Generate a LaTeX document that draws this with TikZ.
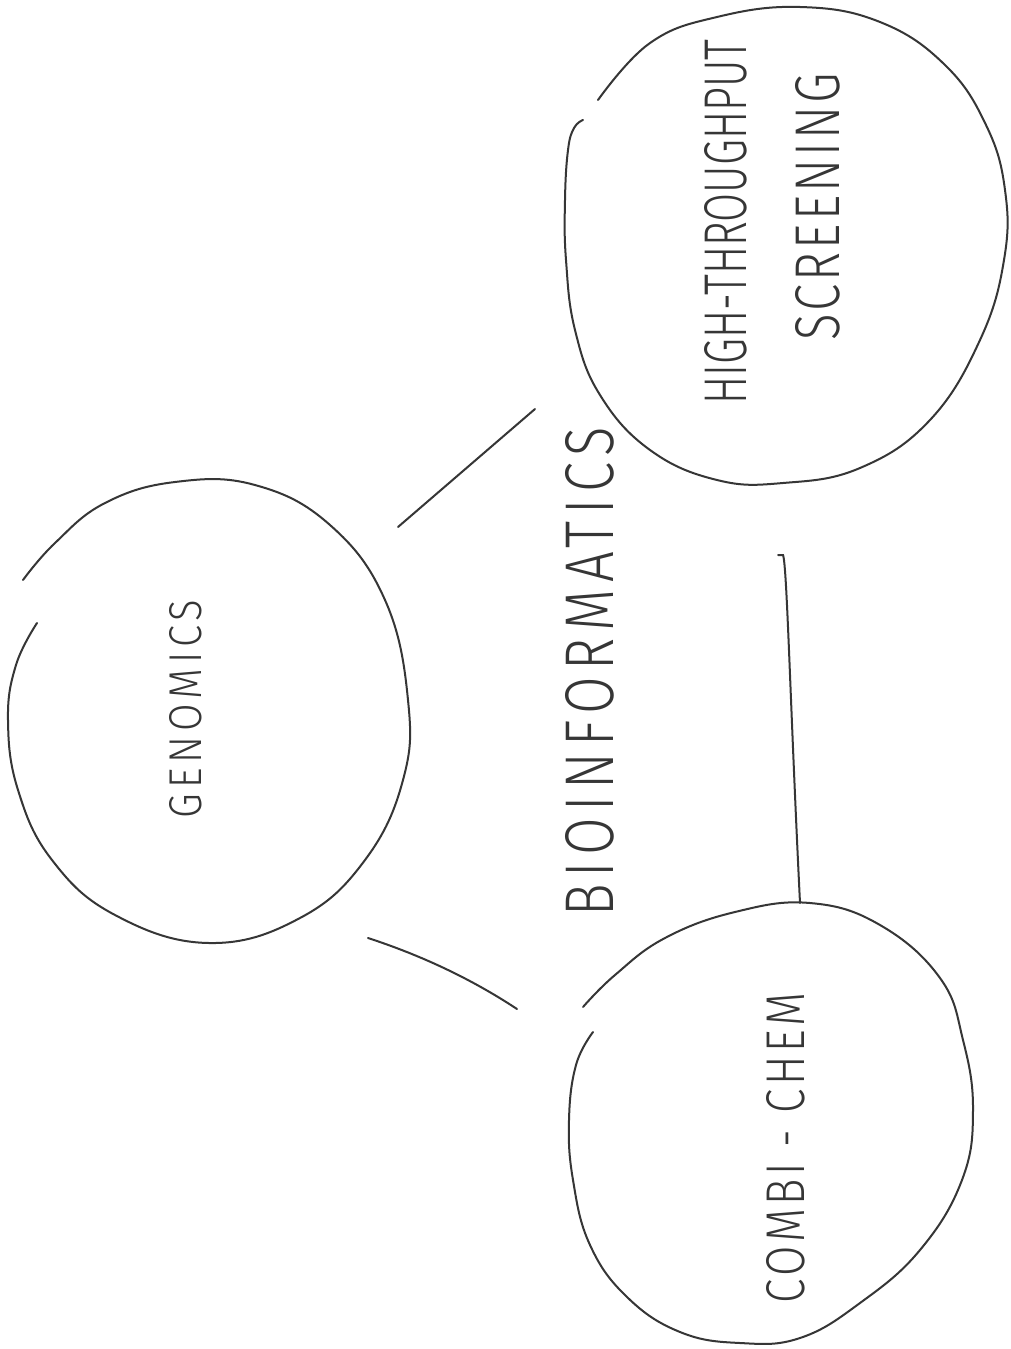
\documentclass[tikz,border=0pt]{standalone}
\usepackage{fontspec}
\setmainfont{Fira Sans}[UprightFont={* Light}]
\usepackage{graphicx}
\definecolor{ink}{HTML}{363636}
\begin{document}
\begin{tikzpicture}[x=1pt,y=-1pt,
  outline/.style={draw=ink, line width=2pt, line cap=round, line join=round},
  link/.style={draw=ink, line width=2pt, line cap=round},
  lbl/.style={rotate=90, inner sep=0pt, text=ink}]
\useasboundingbox[fill=white] (0,0) rectangle (1010,1349);

% Genomics circle (open near top-left)
\draw[outline] plot[smooth, tension=0.7] coordinates {
 (37,623) (16,665) (8,720) (18,790) (52,860) (115,915) (209,943) (300,918)
 (365,860) (403,780) (408,700) (385,600) (330,525) (255,485) (175,482)
 (105,503) (55,543) (23,580)};

% High-throughput screening circle
\draw[outline] plot[smooth, tension=0.7] coordinates {
 (583,120) (574,128) (568,150) (565,200) (566,260) (575,330) (600,395)
 (650,450) (717,480) (783,483) (860,468) (930,420) (980,340) (1004,260)
 (1005,190) (986,125) (945,65) (880,22) (800,7) (717,17) (650,43) (598,100)};

% Combi-chem circle
\draw[outline] plot[smooth, tension=0.7] coordinates {
 (593,1032) (576,1065) (569,1120) (573,1180) (590,1245) (627,1297)
 (680,1332) (740,1343) (800,1338) (860,1303) (920,1250) (962,1180)
 (973,1110) (963,1040) (940,978) (880,925) (810,903) (735,912)
 (665,938) (615,975) (583,1007)};

% labels
\node[lbl] (gen)  at (186,709)  {\resizebox{218pt}{32pt}{\addfontfeature{LetterSpace=12}GENOMICS}};
\node[lbl] (hts1) at (726,222)  {\resizebox{365pt}{42pt}{HIGH-THROUGHPUT}};
\node[lbl] (hts2) at (818,207)  {\resizebox{267pt}{44pt}{\addfontfeature{LetterSpace=6}SCREENING}};
\node[lbl] (cc)   at (786,1148) {\resizebox{310pt}{38pt}{\addfontfeature{LetterSpace=8}COMBI - CHEM}};
\node[lbl] (bio)  at (590,672)  {\resizebox{489pt}{48pt}{\addfontfeature{LetterSpace=12}BIOINFORMATICS}};

% connector end points
\coordinate (g1) at (398,527);
\coordinate (h1) at (535,409);
\coordinate (g2) at (368,938);
\coordinate (c2) at (517,1009);
\coordinate (h3) at (783,555);
\coordinate (c3) at (800,903);

\draw[link] (g1) -- (h1);
\draw[link] (g2) .. controls (420,955) and (470,978) .. (c2);
\draw[link] ([xshift=-5pt]h3) -- (h3) .. controls (787,565) and (790,700) .. (c3);
\end{tikzpicture}
\end{document}
